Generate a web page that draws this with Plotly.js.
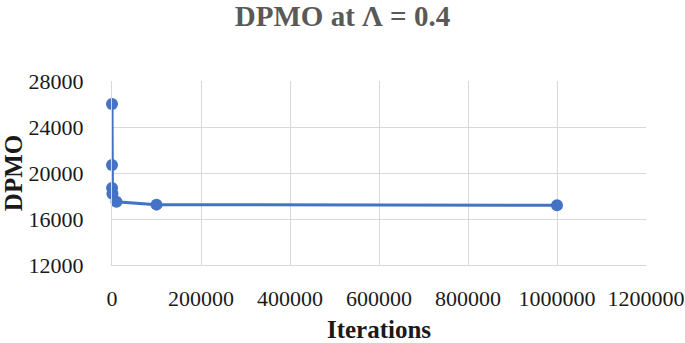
<!DOCTYPE html>
<html>
<head>
<meta charset="utf-8">
<script src="https://cdn.plot.ly/plotly-3.0.1.min.js"></script>
<style>html,body{margin:0;padding:0;background:#fff;}#chart{width:685px;height:343px;}</style>
</head>
<body>
<div id="chart"></div>
<script>
const iterations = [1, 10, 100, 1000, 10000, 100000, 1000000];
const dpmo = [26000, 20700, 18700, 18200, 17500, 17250, 17200];
const xTickVals = [0, 200000, 400000, 600000, 800000, 1000000, 1200000];
const yTickVals = [12000, 16000, 20000, 24000, 28000];

const serif = "'Liberation Serif', 'Times New Roman', serif";

Plotly.newPlot('chart', [{
  x: iterations,
  y: dpmo,
  type: 'scatter',
  mode: 'lines+markers',
  line: {color: '#4472C4', width: 3},
  marker: {color: '#4472C4', size: 12},
  cliponaxis: false
}], {
  width: 685, height: 343,
  margin: {l: 112, r: 39, t: 81, b: 78},
  paper_bgcolor: '#fff', plot_bgcolor: '#fff',
  showlegend: false,
  title: {text: '<b>DPMO at Λ = 0.4</b>', x: 0.5, xanchor: 'center', y: 0.955, yanchor: 'middle',
          font: {family: serif, size: 29, color: '#595959'}},
  xaxis: {
    range: [0, 1200000], tickvals: xTickVals, ticktext: xTickVals.map(String),
    showgrid: true, gridcolor: '#d9d9d9', gridwidth: 1,
    showline: true, linecolor: '#d9d9d9', linewidth: 1, zeroline: false,
    ticks: '', ticklabelstandoff: 14,
    tickfont: {family: serif, size: 22, color: '#1a1a1a'},
    title: {text: '<b>Iterations</b>', font: {family: serif, size: 25, color: '#1a1a1a'}, standoff: 10}
  },
  yaxis: {
    range: [12000, 28000], tickvals: yTickVals, ticktext: yTickVals.map(String),
    showgrid: true, gridcolor: '#d9d9d9', gridwidth: 1,
    showline: true, linecolor: '#d9d9d9', linewidth: 1, zeroline: false,
    ticks: '', ticklabelstandoff: 23,
    tickfont: {family: serif, size: 22, color: '#1a1a1a'},
    title: {text: '<b>DPMO</b>', font: {family: serif, size: 25, color: '#1a1a1a'}, standoff: 8}
  }
}, {staticPlot: true});
</script>
</body>
</html>
